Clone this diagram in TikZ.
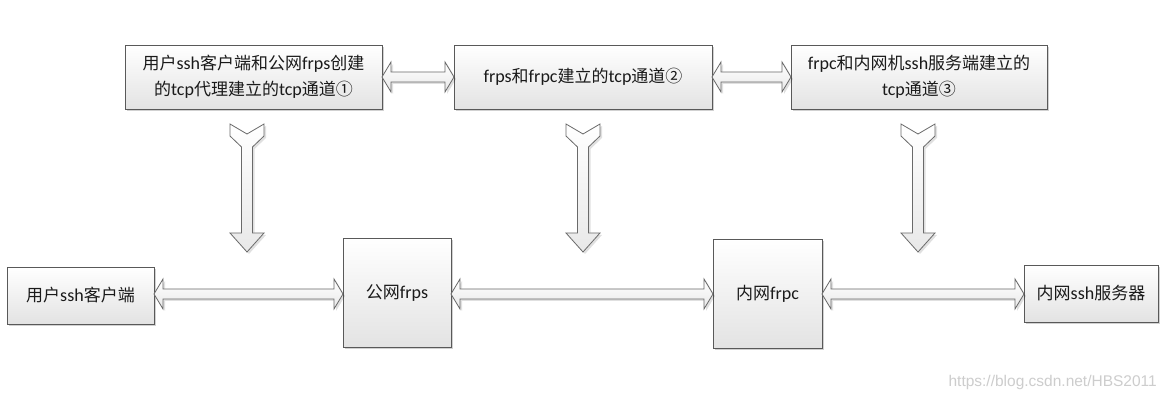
\documentclass[tikz,border=0pt]{standalone}
\usepackage{fontspec}
\setmainfont{Carlito}[Scale=1.06]
\newfontfamily\zh{Noto Sans CJK SC}
\newfontfamily\wmfont{Liberation Sans}
\usetikzlibrary{calc,shadows}
\definecolor{edge}{HTML}{595959}
\definecolor{aedge}{HTML}{6A6A6A}
\definecolor{txt}{HTML}{1A1A1A}
\definecolor{wmark}{HTML}{CDCDCD}
\tikzset{
  box/.style={draw=edge, line width=0.8pt, top color=white, bottom color=black!11,
    outer sep=0pt, inner sep=2pt, align=center, text=txt,
    font=\fontsize{17}{26}\selectfont,
    drop shadow={shadow xshift=2pt, shadow yshift=-2pt, fill=black, opacity=0.18}},
  blockarrow/.style={draw=aedge, line width=0.8pt, line join=miter,
    top color=white, bottom color=black!9,
    drop shadow={shadow xshift=2pt, shadow yshift=-2pt, fill=black, opacity=0.12}},
}
\newcommand\hdblarrow[3]{%
  \path[blockarrow] let \p1=(#1.east), \p2=(#2.west) in
    (\x1,#3) -- (\x1+9pt,#3+15pt) -- (\x1+9pt,#3+5pt) -- (\x2-9pt,#3+5pt)
    -- (\x2-9pt,#3+15pt) -- (\x2,#3) -- (\x2-9pt,#3-15pt) -- (\x2-9pt,#3-5pt)
    -- (\x1+9pt,#3-5pt) -- (\x1+9pt,#3-15pt) -- cycle;}
\newcommand\vdownarrow[2]{%
  \path[blockarrow] let \p1=($(#1.south)+(#2,0)$) in
    (\x1-17pt,\y1-15pt) -- (\x1,\y1-25pt) -- (\x1+17pt,\y1-15pt)
    -- (\x1+17pt,\y1-27pt) -- (\x1+5.5pt,\y1-38pt) -- (\x1+5.5pt,\y1-124pt)
    -- (\x1+17pt,\y1-124pt) -- (\x1,\y1-143pt) -- (\x1-17pt,\y1-124pt)
    -- (\x1-5.5pt,\y1-124pt) -- (\x1-5.5pt,\y1-38pt) -- (\x1-17pt,\y1-27pt) -- cycle;}
\begin{document}
\begin{tikzpicture}[x=1pt,y=1pt]
\useasboundingbox[fill=white] (0,0) rectangle (1165,401);
% top row
\node[box, minimum width=257pt, minimum height=64pt] (b1) at (253.5,324)
  {{\zh 用户}ssh{\zh 客户端和公网}frps{\zh 创建}\\{\zh 的}tcp{\zh 代理建立的}tcp{\zh 通道①}};
\node[box, minimum width=258pt, minimum height=64pt] (b2) at (583,324)
  {frps{\zh 和}frpc{\zh 建立的}tcp{\zh 通道②}};
\node[box, minimum width=256pt, minimum height=64pt] (b3) at (919,324)
  {frpc{\zh 和内网机}ssh{\zh 服务端建立的}\\tcp{\zh 通道③}};
% bottom row
\node[box, minimum width=147pt, minimum height=57pt] (ua) at (80.5,105.5)
  {{\zh 用户}ssh{\zh 客户端}};
\node[box, minimum width=108pt, minimum height=109pt] (ps) at (397,108.5)
  {{\zh 公网}frps};
\node[box, minimum width=109pt, minimum height=109pt] (pc) at (767.5,107.5)
  {{\zh 内网}frpc};
\node[box, minimum width=134pt, minimum height=57pt] (sv) at (1091,107.5)
  {{\zh 内网}ssh{\zh 服务器}};
% horizontal double arrows
\hdblarrow{b1}{b2}{324pt}
\hdblarrow{b2}{b3}{324pt}
\hdblarrow{ua}{ps}{107pt}
\hdblarrow{ps}{pc}{107pt}
\hdblarrow{pc}{sv}{107pt}
% vertical arrows
\vdownarrow{b1}{-6.5pt}
\vdownarrow{b2}{0pt}
\vdownarrow{b3}{-1pt}
% watermark
\node[font=\wmfont\fontsize{15.5}{18}\selectfont, text=wmark, anchor=east, inner sep=0pt] (wm)
  at (1157,19) {https://blog.csdn.net/HBS2011};
\end{tikzpicture}
\end{document}
